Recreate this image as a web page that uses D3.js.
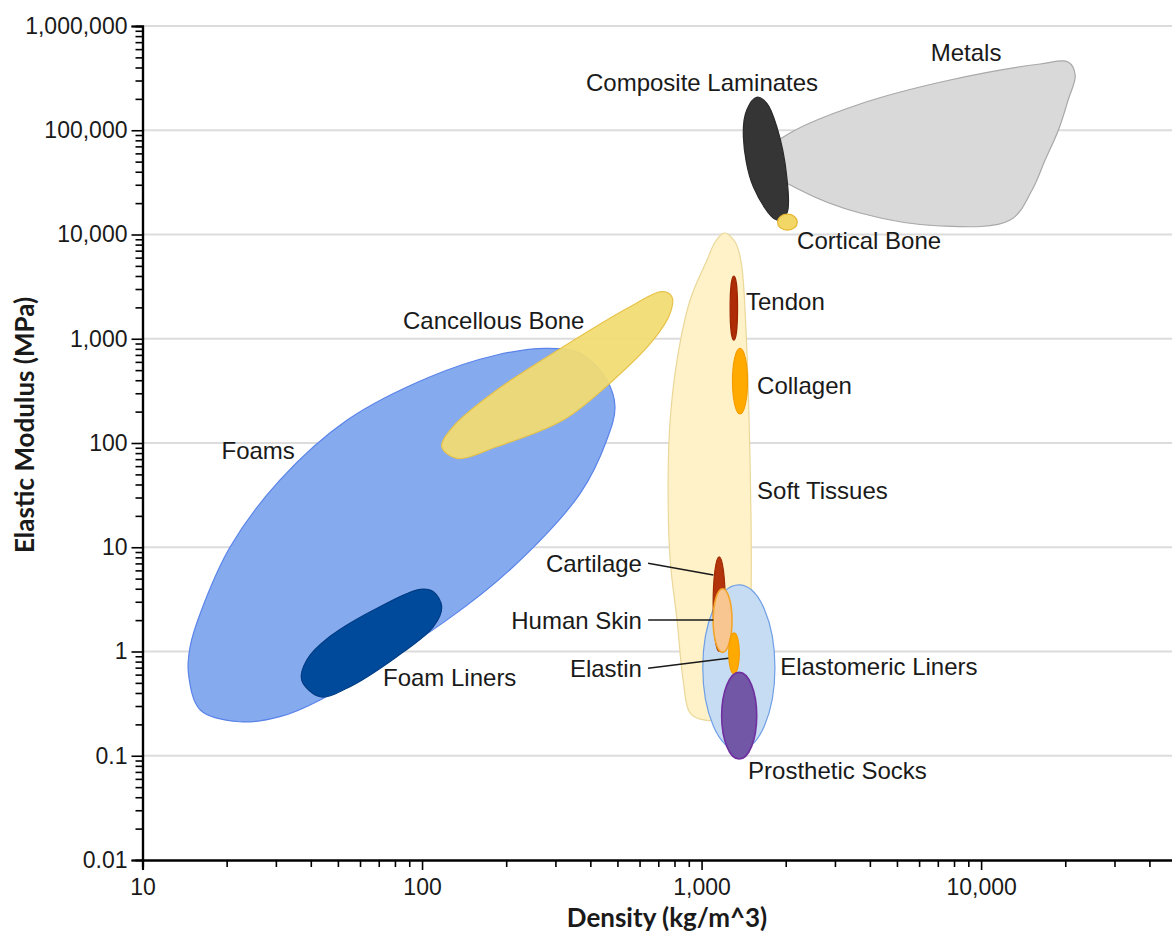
<!DOCTYPE html>
<html>
<head>
<meta charset="utf-8">
<script src="https://cdn.jsdelivr.net/npm/d3@7"></script>
<style>
  html, body { margin: 0; padding: 0; background: #ffffff; }
  svg { display: block; }
</style>
</head>
<body>
<svg id="chart" width="1172" height="932"></svg>
<script>
// Material property chart: elastic modulus vs density, both on log scales.

// Axis tick values
const densityTicks = [10, 100, 1000, 10000];
const modulusTicks = [0.01, 0.1, 1, 10, 100, 1000, 10000, 100000, 1000000];

// Property envelopes given as outline points [density kg/m^3, modulus MPa]
const foamsOutline = [
  [14.6, 0.618], [16.1, 0.275], [22.3, 0.212], [31.0, 0.237], [43.2, 0.343],
  [122.6, 2.0], [212, 6.5], [368, 32.9], [458, 107], [490, 223],
  [458, 402], [368, 725], [279, 810], [185, 699], [107, 432],
  [54, 166], [31, 44], [20.6, 10.1], [16.1, 2.33], [14.8, 1.11]
];
const cancellousBoneOutline = [
  [117.6, 92.1], [133, 71.3], [185, 92.1], [320, 166], [484, 402],
  [672, 973], [772, 1754], [783, 2532], [721, 2827], [555, 2030],
  [320, 839], [185, 322], [129, 143]
];
const foamLinersOutline = [
  [37.1, 0.533], [43.2, 0.368], [53.8, 0.444], [81.2, 0.891], [109.8, 1.73],
  [117.6, 2.69], [109.8, 3.75], [98.4, 3.95], [70.7, 2.69], [46.8, 1.39], [38.7, 0.829]
];
const metalsOutline = [
  [1580, 51800], [2073, 94100], [3690, 178600], [7745, 303400], [16260, 432000],
  [20470, 451600], [21700, 338800], [20480, 195100], [18910, 100550], [16940, 51820],
  [15220, 26730], [12700, 13770], [7135, 12070], [3690, 16070], [2252, 26730]
];
const compositeOutline = [
  [1576, 207100], [1712, 181400], [1858, 108100], [2017, 35840], [2017, 15970],
  [1858, 13780], [1532, 28740], [1411, 86700], [1451, 156400]
];
const softTissuesOutline = [
  [1204, 10330], [1318, 8475], [1385, 5450], [1442, 1213], [1479, 166],
  [1503, 18.3], [1503, 3.12], [1467, 0.533], [1318, 0.246], [1029, 0.220],
  [910, 0.257], [859, 0.533], [817, 2.0], [772, 7.55], [759, 44],
  [772, 166], [817, 625], [910, 2353], [1046, 5693], [1118, 8475]
];

// Property ranges drawn as ellipses: [density low, density high], [modulus low, modulus high]
const corticalBoneRange = { density: [1870, 2200], modulus: [11000, 15700] };
const tendonRange = { density: [1265, 1345], modulus: [970, 4000] };
const collagenRange = { density: [1290, 1460], modulus: [190, 810] };
const elastomericLinersRange = { density: [1010, 1830], modulus: [0.113, 4.35] };
const cartilageRange = { density: [1100, 1215], modulus: [1.0, 8.1] };
const humanSkinRange = { density: [1100, 1285], modulus: [0.98, 4.0] };
const elastinRange = { density: [1250, 1365], modulus: [0.61, 1.51] };
const prostheticSocksRange = { density: [1180, 1575], modulus: [0.093, 0.63] };

// Label anchors [density, modulus]
const labelNames = ["Metals", "Composite Laminates", "Cortical Bone", "Tendon", "Collagen",
  "Soft Tissues", "Cancellous Bone", "Foams", "Foam Liners", "Cartilage", "Human Skin",
  "Elastin", "Elastomeric Liners", "Prosthetic Socks"];
const labelAnchors = [[8838, 550800], [1004, 283900], [2196, 8660], [1442, 2252], [1580, 352],
  [1580, 34.6], [85.5, 1496], [19.17, 83.8], [72.5, 0.557], [612, 7.01], [612, 2.0],
  [612, 0.69], [1910, 0.71], [1467, 0.0714]];
const labelAlign = ["middle", "middle", "start", "start", "start", "start", "start", "start",
  "start", "end", "end", "end", "start", "start"];

// Leader lines from labels to small envelopes
const leaderLines = [
  [[643.6, 7.01], [1102, 5.42]],
  [[643.6, 2.0], [1102, 2.0]],
  [[643.6, 0.69], [1247, 0.86]]
];

const svg = d3.select("#chart");
const margin = { left: 142.5, right: 1176.5, top: 26, bottom: 860 };

const x = d3.scaleLog().domain([10, 50000]).range([margin.left, margin.right]);
const y = d3.scaleLog().domain([0.01, 1000000]).range([margin.bottom, margin.top]);

const textFont = "Arial, 'Liberation Sans', sans-serif";

// Horizontal gridlines at each decade
svg.append("g")
  .selectAll("line")
  .data(modulusTicks.filter(d => d > 0.01))
  .join("line")
  .attr("x1", margin.left).attr("x2", 1172)
  .attr("y1", d => y(d)).attr("y2", d => y(d))
  .attr("stroke", "#dcdcdc").attr("stroke-width", 1.8);

const outline = d3.line()
  .x(d => x(d[0]))
  .y(d => y(d[1]))
  .curve(d3.curveCatmullRomClosed.alpha(0.5));

const shapes = svg.append("g");

function drawOutline(points, fill, stroke, opacity) {
  shapes.append("path")
    .attr("d", outline(points))
    .attr("fill", fill)
    .attr("fill-opacity", opacity == null ? 1 : opacity)
    .attr("stroke", stroke)
    .attr("stroke-width", 1.2);
}

function drawRange(r, fill, stroke, width) {
  const x0 = x(r.density[0]), x1 = x(r.density[1]);
  const y0 = y(r.modulus[1]), y1 = y(r.modulus[0]);
  shapes.append("ellipse")
    .attr("cx", (x0 + x1) / 2).attr("cy", (y0 + y1) / 2)
    .attr("rx", (x1 - x0) / 2).attr("ry", (y1 - y0) / 2)
    .attr("fill", fill)
    .attr("stroke", stroke)
    .attr("stroke-width", width || 1.2);
}

drawOutline(foamsOutline, "#86aaee", "#5a84ea");
drawOutline(cancellousBoneOutline, "#f2dc72", "#e6c34a", 0.93);
drawOutline(foamLinersOutline, "#004a9c", "#003d85");
drawOutline(metalsOutline, "#d9d9d9", "#a8a8a8");
drawOutline(compositeOutline, "#353535", "#2a2a2a");
drawRange(corticalBoneRange, "#f2d666", "#e3b733");
drawOutline(softTissuesOutline, "#fff2c8", "#ead79a");
drawRange(tendonRange, "#ad2b05", "#9c2500");
drawRange(collagenRange, "#ffaa00", "#f59d00");
drawRange(elastomericLinersRange, "#c6dcf2", "#6f9fe6");
drawRange(cartilageRange, "#b3330a", "#a02a00");
drawRange(humanSkinRange, "#f8c690", "#f3a52a", 1.6);
drawRange(elastinRange, "#ffaa00", "#f59d00");
drawRange(prostheticSocksRange, "#7157a6", "#7030a0", 1.6);

// Leader lines
svg.append("g")
  .selectAll("line")
  .data(leaderLines)
  .join("line")
  .attr("x1", d => x(d[0][0])).attr("y1", d => y(d[0][1]))
  .attr("x2", d => x(d[1][0])).attr("y2", d => y(d[1][1]))
  .attr("stroke", "#1a1a1a").attr("stroke-width", 1.5);

// Region labels
svg.append("g")
  .selectAll("text")
  .data(labelNames)
  .join("text")
  .attr("x", (d, i) => x(labelAnchors[i][0]))
  .attr("y", (d, i) => y(labelAnchors[i][1]))
  .attr("dy", "0.35em")
  .attr("text-anchor", (d, i) => labelAlign[i])
  .attr("font-family", textFont)
  .attr("font-size", 24)
  .attr("fill", "#1a1a1a")
  .text(d => d);

// Axes
const fmt = d3.format(",");
const minorY = y.ticks().filter(d => !modulusTicks.includes(d));
const minorX = x.ticks().filter(d => !densityTicks.includes(d));

function styleAxis(g) {
  g.select(".domain").attr("stroke", "#000").attr("stroke-width", 2.2);
  g.selectAll(".tick line").attr("stroke", "#000").attr("stroke-width", 1.6);
  g.selectAll(".tick text")
    .attr("font-family", textFont)
    .attr("font-size", 23)
    .attr("fill", "#1a1a1a");
}

svg.append("g")
  .attr("transform", `translate(${margin.left},0)`)
  .call(d3.axisLeft(y).tickValues(minorY).tickSize(7).tickFormat(""))
  .call(styleAxis);
svg.append("g")
  .attr("transform", `translate(${margin.left},0)`)
  .call(d3.axisLeft(y).tickValues(modulusTicks).tickSize(11).tickPadding(4).tickFormat(fmt))
  .call(styleAxis);

svg.append("g")
  .attr("transform", `translate(0,${margin.bottom})`)
  .call(d3.axisBottom(x).tickValues(minorX).tickSize(7).tickFormat(""))
  .call(styleAxis);
svg.append("g")
  .attr("transform", `translate(0,${margin.bottom})`)
  .call(d3.axisBottom(x).tickValues(densityTicks).tickSize(10).tickPadding(9).tickFormat(fmt))
  .call(styleAxis);

// Axis titles
svg.append("text")
  .attr("x", 667).attr("y", 927)
  .attr("text-anchor", "middle")
  .attr("font-family", "Lato, 'Open Sans', sans-serif")
  .attr("font-weight", "bold")
  .attr("font-size", 26)
  .attr("fill", "#1a1a1a")
  .text("Density (kg/m^3)");

svg.append("text")
  .attr("transform", "translate(34,425) rotate(-90)")
  .attr("text-anchor", "middle")
  .attr("font-family", "Lato, 'Open Sans', sans-serif")
  .attr("font-weight", "bold")
  .attr("font-size", 26)
  .attr("fill", "#1a1a1a")
  .text("Elastic Modulus (MPa)");
</script>
</body>
</html>
